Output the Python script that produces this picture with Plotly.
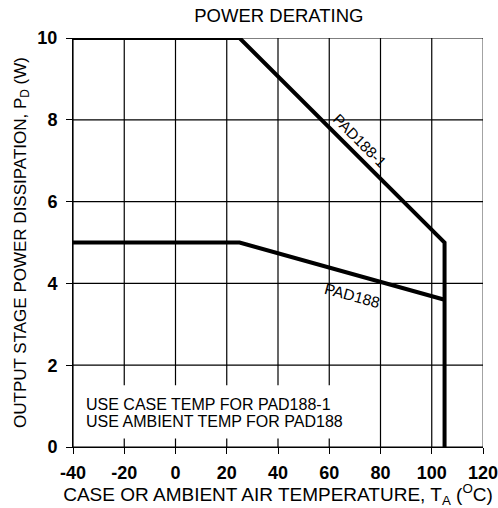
import plotly.graph_objects as go

# Data
pad188_1_temp = [-40, 25, 105, 105]
pad188_1_power = [10, 10, 5, 0]
pad188_temp = [-40, 25, 105]
pad188_power = [5, 5, 3.6]
x_ticks = [-40, -20, 0, 20, 40, 60, 80, 100, 120]
x_tick_labels = ["-40", "-20", "0", "20", "40", "60", "80", "100", "120"]
y_ticks = [0, 2, 4, 6, 8, 10]
y_tick_labels = ["0", "2", "4", "6", "8", "10"]
note_lines = ["USE CASE TEMP FOR PAD188-1", "USE AMBIENT TEMP FOR PAD188"]

FONT = "Liberation Sans, Arial, sans-serif"
X0, X1 = x_ticks[0], x_ticks[-1]
Y0, Y1 = y_ticks[0], y_ticks[-1]

fig = go.Figure()

# grid lines drawn at the tick positions
for xv in x_ticks:
    fig.add_shape(type="line", xref="x", yref="y", x0=xv, x1=xv, y0=Y0, y1=Y1,
                  line=dict(color="#666666" if xv == X1 else "black", width=1.2), layer="above")
for yv in y_ticks:
    fig.add_shape(type="line", xref="x", yref="y", x0=X0, x1=X1, y0=yv, y1=yv,
                  line=dict(color="black", width=1.2), layer="above")
# white box behind the note (interrupts gridlines)
fig.add_shape(type="rect", xref="x", yref="y", x0=-39.6, x1=63.1, y0=0.21, y1=1.51,
              fillcolor="white", line=dict(width=0), layer="above")

fig.add_trace(go.Scatter(x=pad188_1_temp, y=pad188_1_power, mode="lines",
                         line=dict(color="black", width=4), showlegend=False))
fig.add_trace(go.Scatter(x=pad188_temp, y=pad188_power, mode="lines",
                         line=dict(color="black", width=4), showlegend=False))

for txt, yv in zip(note_lines, [1.03, 0.63]):
    fig.add_annotation(x=-35.8, y=yv, xref="x", yref="y", xanchor="left", yanchor="middle",
                       text=txt, showarrow=False, align="left",
                       font=dict(family=FONT, size=16, color="black"))
fig.add_annotation(x=72, y=7.5, text="PAD188-1", showarrow=False, textangle=45,
                   font=dict(family=FONT, size=15, color="black"))
fig.add_annotation(x=69, y=3.71, text="PAD188", showarrow=False, textangle=15,
                   font=dict(family=FONT, size=15.5, color="black"))

fig.update_layout(
    width=498, height=508,
    margin=dict(l=73, r=15, t=38, b=61),
    paper_bgcolor="white", plot_bgcolor="white",
    title=dict(text="POWER DERATING", x=0.56, xanchor="center", y=0.97, yanchor="middle",
               font=dict(family=FONT, size=18.5, color="black")),
    font=dict(family=FONT, color="black"),
)
fig.update_xaxes(
    range=[X0, X1], tickvals=x_ticks, ticktext=x_tick_labels,
    showgrid=False, showline=True, linecolor="black", linewidth=1,
    ticks="outside", ticklen=6, tickcolor="black", zeroline=False,
    automargin=False, ticklabeloverflow="allow", ticklabelstandoff=3,
    tickfont=dict(family=FONT, size=18, weight="bold", color="black"),
    title=dict(text="CASE OR AMBIENT AIR TEMPERATURE, T<sub>A</sub> (<sup>O</sup>C)",
               font=dict(family=FONT, size=19, color="black"), standoff=0),
)
fig.update_yaxes(
    range=[Y0, Y1], tickvals=y_ticks, ticktext=y_tick_labels,
    showgrid=False, showline=True, linecolor="black", linewidth=1,
    ticks="outside", ticklen=6, tickcolor="black", zeroline=False,
    automargin=False, ticklabelstandoff=5,
    tickfont=dict(family=FONT, size=18, weight="bold", color="black"),
    title=dict(text="OUTPUT STAGE POWER DISSIPATION, P<sub>D</sub> (W)",
               font=dict(family=FONT, size=17, color="black"), standoff=6),
)

# remove the default 8px page margin so the figure fills the window exactly
fig.write_html("out.html", config={"displayModeBar": False},
               post_script="document.body.style.margin='0px';document.body.style.overflow='hidden';")
